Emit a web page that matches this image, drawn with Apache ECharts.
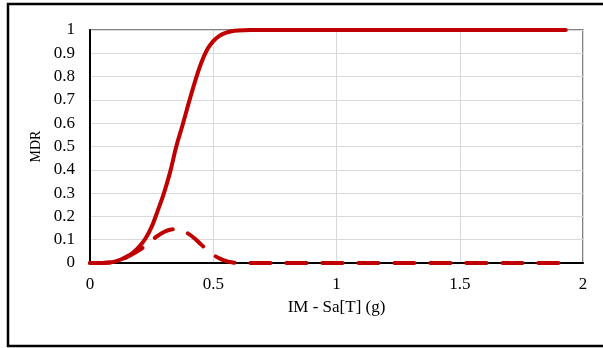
<!DOCTYPE html>
<html>
<head>
<meta charset="utf-8">
<script src="https://cdn.jsdelivr.net/npm/echarts@6/dist/echarts.min.js"></script>
<style>
html,body{margin:0;padding:0;background:#fff;}
#c{width:603px;height:348px;}
</style>
</head>
<body>
<div id="c"></div>
<script>
// Solid curve (MDR CDF)
var solidX = [0, 0.05, 0.08, 0.1, 0.125, 0.15, 0.175, 0.2, 0.225, 0.25, 0.275, 0.3, 0.325, 0.35, 0.375, 0.4, 0.425, 0.45, 0.475, 0.5, 0.525, 0.55, 0.575, 0.6, 0.65, 0.7, 0.8, 1.0, 1.2, 1.4, 1.6, 1.8, 1.93];
var solidY = [0, 0, 0.002, 0.006, 0.015, 0.028, 0.045, 0.07, 0.105, 0.155, 0.225, 0.3, 0.39, 0.5, 0.59, 0.685, 0.775, 0.855, 0.915, 0.952, 0.975, 0.988, 0.995, 0.998, 1, 1, 1, 1, 1, 1, 1, 1, 1];
// Dashed curve
var dashX = [0, 0.05, 0.1, 0.125, 0.15, 0.175, 0.2, 0.225, 0.25, 0.275, 0.3, 0.325, 0.35, 0.375, 0.4, 0.425, 0.45, 0.475, 0.5, 0.525, 0.55, 0.575, 0.6, 0.7, 0.8, 1.0, 1.2, 1.4, 1.6, 1.8, 1.9];
var dashY = [0, 0, 0.005, 0.013, 0.026, 0.04, 0.055, 0.075, 0.097, 0.117, 0.133, 0.143, 0.145, 0.138, 0.125, 0.105, 0.08, 0.057, 0.035, 0.02, 0.009, 0.003, 0, 0, 0, 0, 0, 0, 0, 0, 0];
var xTitle = 'IM - Sa[T] (g)';
var yTitle = 'MDR';

function pairs(xs, ys){ return xs.map(function(x,i){return [x, ys[i]];}); }

var chart = echarts.init(document.getElementById('c'), null, {renderer:'canvas'});
var font = 'Liberation Serif';
chart.setOption({
  animation:false,
  backgroundColor:'#fff',
  graphic:[{
    type:'rect', shape:{x:8, y:4, width:610, height:342},
    style:{fill:'none', stroke:'#000', lineWidth:2.5}, silent:true, z:100
  }],
  grid:{left:90, right:20, top:30, bottom:85, show:true, borderColor:'#595959', borderWidth:1.5},
  xAxis:{
    type:'value', min:0, max:2, interval:0.5,
    name:xTitle, nameLocation:'middle', nameGap:36,
    nameTextStyle:{fontFamily:font, fontSize:17, color:'#000'},
    axisLine:{show:true, onZero:false, lineStyle:{color:'#000', width:2}},
    axisTick:{show:false},
    axisLabel:{fontFamily:font, fontSize:17, color:'#000', margin:13},
    splitLine:{show:true, lineStyle:{color:'#d9d9d9', width:1}}
  },
  yAxis:{
    type:'value', min:0, max:1, interval:0.1,
    name:yTitle, nameLocation:'middle', nameGap:45,
    nameTextStyle:{fontFamily:font, fontSize:14, color:'#000'},
    axisLine:{show:true, onZero:false, lineStyle:{color:'#000', width:2}},
    axisTick:{show:false},
    axisLabel:{fontFamily:font, fontSize:17, color:'#000', margin:15},
    splitLine:{show:true, lineStyle:{color:'#d9d9d9', width:1}}
  },
  series:[
    {type:'line', data:pairs(solidX, solidY), showSymbol:false, smooth:0.4,
     lineStyle:{color:'#c00000', width:4, cap:'round', join:'round'}, z:3},
    {type:'line', data:pairs(dashX, dashY), showSymbol:false, smooth:0.4,
     lineStyle:{color:'#c00000', width:4, type:[20,16], cap:'round', join:'round'}, z:4}
  ]
});
</script>
</body>
</html>
